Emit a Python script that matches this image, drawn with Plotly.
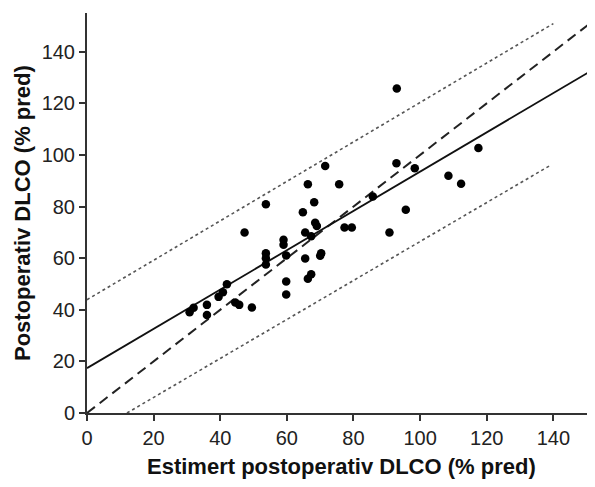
import plotly.graph_objects as go

# Observed data (estimated postoperative DLCO vs postoperative DLCO, % pred)
est_dlco = [30.8, 32.0, 36.0, 36.0, 39.5, 40.8, 42.0, 44.5, 45.7, 49.5, 47.3,
            53.7, 53.7, 53.7, 53.7, 59.0, 59.0, 59.8, 59.8, 59.8,
            64.8, 65.5, 65.5, 66.3, 66.3, 67.3, 67.3, 68.2, 68.5, 69.0, 70.0, 70.3,
            71.5, 75.7, 77.3, 79.5, 85.8, 90.8, 92.9, 93.0, 95.7, 98.4,
            108.5, 112.3, 117.5]
post_dlco = [39.0, 40.8, 41.9, 38.0, 45.0, 46.8, 49.9, 42.8, 41.9, 40.9, 69.9,
             80.9, 61.9, 60.0, 57.5, 67.1, 65.2, 61.0, 51.0, 45.9,
             77.8, 69.9, 59.9, 88.6, 52.0, 68.5, 53.8, 81.7, 73.7, 72.5, 60.9, 61.9,
             95.7, 88.6, 71.9, 71.9, 83.9, 69.9, 96.8, 125.7, 78.8, 94.8,
             91.9, 88.8, 102.7]

# Reference lines (end points)
fit_x = [0, 152.5]
fit_y = [17.4, 133.5]
identity_x = [0, 152.5]
identity_y = [0, 152.5]
upper_x = [0, 140]
upper_y = [43.9, 150.9]
lower_x = [12, 139]
lower_y = [0, 95.9]

x_ticks = [0, 20, 40, 60, 80, 100, 120, 140]
y_ticks = [0, 20, 40, 60, 80, 100, 120, 140]

x_title = "Estimert postoperativ DLCO (% pred)"
y_title = "Postoperativ DLCO (% pred)"

fig = go.Figure()
fig.add_trace(go.Scatter(x=upper_x, y=upper_y, mode="lines",
                         line=dict(color="#555555", width=1.6, dash="dot"),
                         showlegend=False, hoverinfo="skip"))
fig.add_trace(go.Scatter(x=lower_x, y=lower_y, mode="lines",
                         line=dict(color="#555555", width=1.6, dash="dot"),
                         showlegend=False, hoverinfo="skip"))
fig.add_trace(go.Scatter(x=identity_x, y=identity_y, mode="lines",
                         line=dict(color="#222222", width=2, dash="10px,6px"),
                         showlegend=False, hoverinfo="skip"))
fig.add_trace(go.Scatter(x=fit_x, y=fit_y, mode="lines",
                         line=dict(color="#111111", width=1.8),
                         showlegend=False, hoverinfo="skip"))
fig.add_trace(go.Scatter(x=est_dlco, y=post_dlco, mode="markers",
                         marker=dict(color="black", size=8.5),
                         showlegend=False))

font_family = "Liberation Sans, Arial, sans-serif"
# The page body has an 8px default margin, so the figure is made 8px smaller
fig.update_layout(
    width=587, height=479,
    margin=dict(l=79, r=0, t=5, b=74),
    paper_bgcolor="white", plot_bgcolor="white",
    font=dict(family=font_family, color="#222222"),
    xaxis=dict(range=[0, 152.5], tickvals=x_ticks, ticks="outside", ticklen=6,
               tickwidth=1.5, tickcolor="#333333", automargin=False,
               showline=True, linecolor="#333333", linewidth=2,
               showgrid=False, zeroline=False,
               tickfont=dict(size=20, family=font_family, color="#222222")),
    yaxis=dict(range=[0, 155], tickvals=y_ticks, ticks="outside", ticklen=6,
               tickwidth=1.5, tickcolor="#333333", automargin=False,
               showline=True, linecolor="#333333", linewidth=2,
               showgrid=False, zeroline=False,
               tickfont=dict(size=20, family=font_family, color="#222222")),
    annotations=[
        dict(text="<b>" + x_title + "</b>", xref="paper", yref="paper",
             x=0.5, y=0, xanchor="center", yanchor="middle", yshift=-53,
             showarrow=False,
             font=dict(size=22, family=font_family, color="#111111")),
        dict(text="<b>" + y_title + "</b>", xref="paper", yref="paper",
             x=0, y=0.5, xanchor="center", yanchor="middle", xshift=-65,
             textangle=-90, showarrow=False,
             font=dict(size=22, family=font_family, color="#111111")),
    ],
)

fig.write_html("out.html")
